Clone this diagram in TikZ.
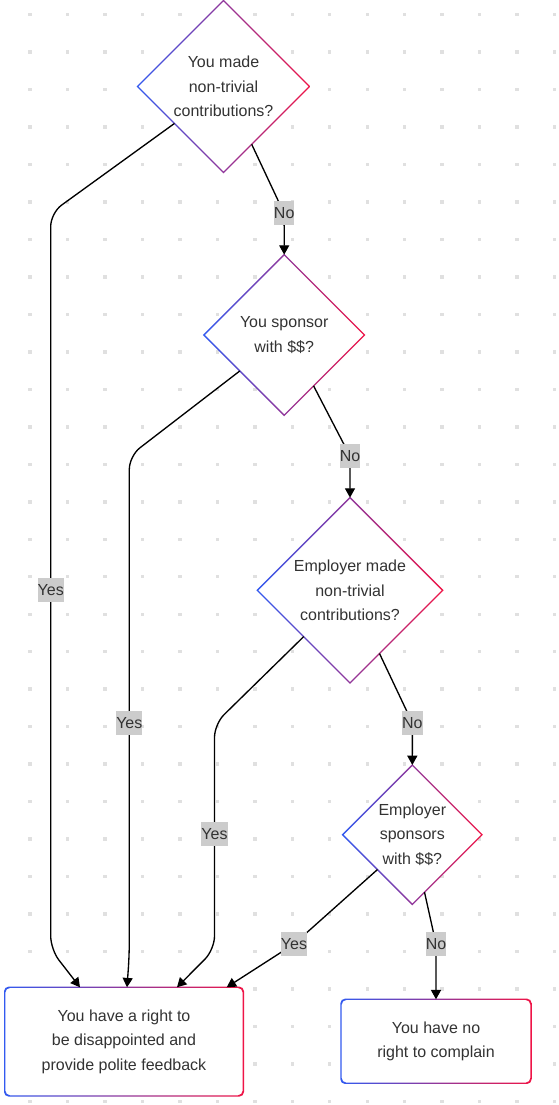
\documentclass[tikz,border=0pt]{standalone}
\usepackage{fontspec}
\setmainfont{Liberation Sans}
\usetikzlibrary{shapes.geometric,arrows.meta,calc}
\definecolor{gblue}{RGB}{50,90,240}
\definecolor{gred}{RGB}{240,20,70}
\definecolor{txt}{RGB}{51,51,51}
\definecolor{lblbg}{RGB}{204,204,204}
\definecolor{dotc}{RGB}{224,224,224}
\newcommand\gdia[1]{%
  \shade[left color=gblue, right color=gred, even odd rule]
    ($(#1.north)+(0,0.7pt)$) -- ($(#1.east)+(0.7pt,0)$) -- ($(#1.south)+(0,-0.7pt)$) -- ($(#1.west)+(-0.7pt,0)$) -- cycle
    ($(#1.north)+(0,-0.7pt)$) -- ($(#1.east)+(-0.7pt,0)$) -- ($(#1.south)+(0,0.7pt)$) -- ($(#1.west)+(0.7pt,0)$) -- cycle;}
\newcommand\gbox[1]{%
  \shade[left color=gblue, right color=gred, even odd rule, rounded corners=3.5pt]
    ($(#1.south west)+(-0.5pt,-0.5pt)$) rectangle ($(#1.north east)+(0.5pt,0.5pt)$)
    ($(#1.south west)+(0.5pt,0.5pt)$) rectangle ($(#1.north east)+(-0.5pt,-0.5pt)$);}
\begin{document}
\begin{tikzpicture}[x=0.75pt,y=-0.75pt,
  every node/.style={font=\fontsize{12pt}{18.4pt}\selectfont, text=txt},
  dia/.style={diamond, aspect=1, fill=white, inner sep=0pt, outer sep=0pt, align=center, minimum size=#1},
  boxn/.style={rectangle, fill=white, rounded corners=3pt, inner sep=0pt, outer sep=0pt, align=center},
  lbl/.style={fill=lblbg, inner sep=0pt, text height=13pt, text depth=5pt},
  edge/.style={draw=black, line width=1pt, rounded corners=10pt, -{Triangle[length=7pt,width=7.5pt]}}]
\useasboundingbox (0,0) rectangle (559,1105);
\fill[white] (0,0) rectangle (559,1105);
% dot grid
\foreach \i in {0,...,14}{
  \foreach \j in {0,...,29}{
    \fill[dotc] ({30+37.47*\i-1.7},{14.7+37.47*\j-1.7}) rectangle ++(3.4,3.4);
  }}
% nodes
\node[dia=129pt] (d1) at (223.5,86.5) {You made\\non-trivial\\contributions?};
\node[dia=120.5pt] (d2) at (284.2,335) {You sponsor\\with \$\$?};
\node[dia=139pt] (d3) at (350,590.3) {Employer made\\non-trivial\\contributions?};
\node[dia=104.5pt] (d4) at (412.3,834.7) {Employer\\sponsors\\with \$\$?};
\node[boxn, minimum width=179pt, minimum height=81.5pt] (b1) at (124,1041.6) {You have a right to\\be disappointed and\\provide polite feedback};
\node[boxn, minimum width=142.5pt, minimum height=63pt] (b2) at (436,1041.3) {You have no\\right to complain};
\gdia{d1}\gdia{d2}\gdia{d3}\gdia{d4}
\gbox{b1}\gbox{b2}
% label positions
\coordinate (l1y) at (50.7,590);
\coordinate (l2y) at (129.3,723);
\coordinate (l3y) at (214.5,834);
\coordinate (l4y) at (294,944);
\coordinate (l1n) at (284.2,213.5);
\coordinate (l2n) at (350,456);
\coordinate (l3n) at (412.4,723);
\coordinate (l4n) at (436,944);
% edges
\draw[edge] (d1.217) -- (50.7,213) -- (l1y) -- (50.7,949.5) -- (80,0 |- b1.north);
\draw[edge] (d2.219) -- (129.3,456) -- (l2y) -- (129.3,955) -- (127,0 |- b1.north);
\draw[edge] (d3.225) -- (214.5,724) -- (l3y) -- (214.5,949.5) -- (177,0 |- b1.north);
\draw[edge] (d4.225) -- (l4y) -- (226.7,0 |- b1.north);
\draw[edge] (d1.296) -- (l1n) -- (d2.north);
\draw[edge] (d2.300) -- (l2n) -- (d3.north);
\draw[edge] (d3.295) -- (l3n) -- (d4.north);
\draw[edge] (d4.282) -- (l4n) -- (l4n |- b2.north);
% labels
\node[lbl] (t1y) at (l1y) {Yes};
\node[lbl] (t2y) at (l2y) {Yes};
\node[lbl] (t3y) at (l3y) {Yes};
\node[lbl] (t4y) at (l4y) {Yes};
\node[lbl] (t1n) at (l1n) {No};
\node[lbl] (t2n) at (l2n) {No};
\node[lbl] (t3n) at (l3n) {No};
\node[lbl] (t4n) at (l4n) {No};
\end{tikzpicture}
\end{document}
